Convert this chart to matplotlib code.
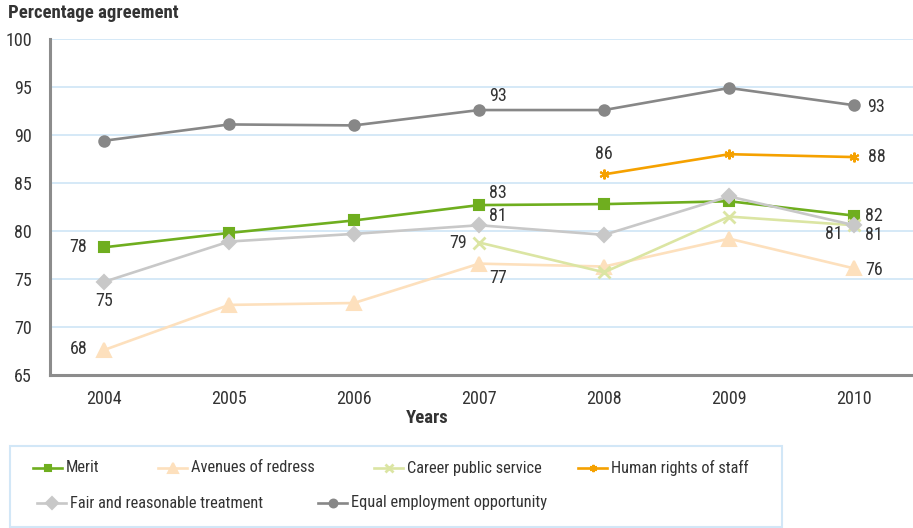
import matplotlib
matplotlib.use("Agg")
import matplotlib.pyplot as plt
from matplotlib import font_manager
from matplotlib.lines import Line2D
from matplotlib.patches import Rectangle

available = {f.name for f in font_manager.fontManager.ttflist}
family = "Liberation Sans"
for cand in ["Roboto Condensed", "Liberation Sans Narrow", "Open Sans Condensed", "Liberation Sans"]:
    if cand in available:
        family = cand
        break
plt.rcParams["font.family"] = [family, "DejaVu Sans"]

years = ["2004", "2005", "2006", "2007", "2008", "2009", "2010"]

merit = [78.3, 79.8, 81.1, 82.7, 82.8, 83.1, 81.6]
avenues_of_redress = [67.6, 72.3, 72.5, 76.6, 76.3, 79.2, 76.1]
career_public_service = [None, None, None, 78.8, 75.7, 81.5, 80.6]
human_rights_of_staff = [None, None, None, None, 85.9, 88.0, 87.7]
fair_treatment = [74.7, 78.9, 79.7, 80.6, 79.6, 83.6, 80.6]
equal_employment = [89.4, 91.1, 91.0, 92.6, 92.6, 94.9, 93.1]

series_names = ["Merit", "Avenues of redress", "Career public service",
                "Human rights of staff", "Fair and reasonable treatment",
                "Equal employment opportunity"]
series_values = [merit, avenues_of_redress, career_public_service,
                 human_rights_of_staff, fair_treatment, equal_employment]

colors = ["#6fae1f", "#fde0bd", "#dbe5a3", "#f5a100", "#c8c8c8", "#878787"]
markers = ["s", "^", "x", (6, 2, 0), "D", "o"]
msizes = [6.5, 10, 8, 7, 7.5, 7.5]

# which points carry a value label, and where it sits (offset in points)
labelled = {
    0: {0: (-12, 0, "right", "center"), 3: (7, 9, "left", "center"), 6: (8, 0, "left", "center")},
    1: {0: (-12, 1, "right", "center"), 3: (7, -10, "left", "center"), 6: (8, -1, "left", "center")},
    2: {3: (-9, 0, "right", "center"), 6: (8, -7, "left", "center")},
    3: {4: (0, 8, "center", "bottom"), 6: (10, 0, "left", "center")},
    4: {0: (0, -7, "center", "top"), 3: (7, 7, "left", "center"), 6: (-8, -6, "right", "center")},
    5: {3: (7, 10, "left", "center"), 6: (9, -1, "left", "center")},
}

text_color = "#333333"
fs = 13

fig = plt.figure(figsize=(9.13, 5.28), dpi=100)
ax = fig.add_axes([50 / 913, 1 - 375 / 528, 1 - 50 / 913, (375 - 39) / 528])

xs = list(range(len(years)))
handles = []
for i, (name, vals) in enumerate(zip(series_names, series_values)):
    pts = [(x, v) for x, v in zip(xs, vals) if v is not None]
    px = [p[0] for p in pts]
    py = [p[1] for p in pts]
    mew = 2.0 if markers[i] == "x" else 1.5
    line, = ax.plot(px, py, color=colors[i], lw=1.9, marker=markers[i], ms=msizes[i],
                    mew=mew, mec=colors[i], mfc=colors[i], label=name, zorder=3 + i * 0.1)
    handles.append(line)
    for idx, off in labelled[i].items():
        ax.annotate(f"{vals[idx]:.0f}", (idx, vals[idx]), xytext=off[:2],
                    textcoords="offset points", ha=off[2], va=off[3],
                    fontsize=fs, color=text_color, zorder=10)

ax.set_xlim(-0.432, 6.47)
ax.set_ylim(65, 100)
ax.set_xticks(xs)
ax.set_xticklabels(years)
ax.set_yticks(range(65, 101, 5))
ax.tick_params(axis="both", length=0, labelsize=fs, colors=text_color)
ax.tick_params(axis="x", pad=11)
ax.tick_params(axis="y", pad=13)
ax.grid(axis="y", color="#d2e7f7", lw=1.3)
ax.set_axisbelow(True)
for s in ["top", "right"]:
    ax.spines[s].set_visible(False)
for s in ["left", "bottom"]:
    ax.spines[s].set_color("#8c8c8c")
    ax.spines[s].set_linewidth(2.2)

fig.text(8 / 913, 1 - 13 / 528, "Percentage agreement", fontsize=13.5,
         fontweight="bold", color=text_color, ha="left", va="center")
fig.text(427 / 913, 1 - 418 / 528, "Years", fontsize=13.5,
         fontweight="bold", color=text_color, ha="center", va="center")

# legend box laid out as a flowing two-row key
fig.patches.append(Rectangle((10 / 913, 1 - 527 / 528), 772 / 913, 81 / 528,
                             transform=fig.transFigure, fill=False,
                             edgecolor="#d2e7f7", lw=1.5))
key_slots = [(33, 468), (158, 468), (374, 468), (578, 468), (37, 503), (318, 503)]
for h, (kx, ky) in zip(handles, key_slots):
    y = 1 - ky / 528
    fig.add_artist(Line2D([kx / 913, (kx + 29) / 913], [y, y], transform=fig.transFigure,
                          color=h.get_color(), lw=1.9, marker=None))
    fig.add_artist(Line2D([(kx + 14.5) / 913], [y], transform=fig.transFigure,
                          color=h.get_color(), marker=h.get_marker(),
                          ms=h.get_markersize() * 0.75, mew=h.get_markeredgewidth(),
                          mec=h.get_color(), mfc=h.get_color(), lw=0))
    fig.text((kx + 33) / 913, y, h.get_label(), fontsize=11.8, color=text_color,
             ha="left", va="center")

fig.savefig("out.png", dpi=100)
